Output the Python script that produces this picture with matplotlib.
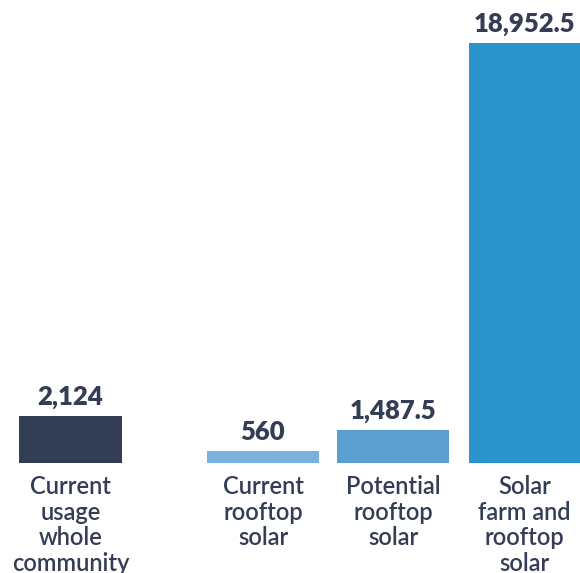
import matplotlib
matplotlib.use("Agg")
import matplotlib.pyplot as plt

# chart data
categories = ["Current\nusage\nwhole\ncommunity", "Current\nrooftop\nsolar",
              "Potential\nrooftop\nsolar", "Solar\nfarm and\nrooftop\nsolar"]
values = [2124, 560, 1487.5, 18952.5]
value_labels = ["2,124", "560", "1,487.5", "18,952.5"]

# layout (pixel-like x units, figure is 580 px wide)
centers = [70.5, 263, 393, 524.5]
widths = [103, 112, 112, 111]
colors = ["#333d55", "#7ab1dc", "#5b9fd0", "#2a94cc"]
text_color = "#333d55"

plt.rcParams["font.family"] = ["Lato", "DejaVu Sans"]

fig = plt.figure(figsize=(5.8, 5.73), dpi=100)
# baseline sits 110 px above the bottom edge
ax = fig.add_axes([0, 110 / 573, 1, 463 / 573])
ax.bar(centers, values, width=widths, color=colors, linewidth=0)
ax.set_xlim(0, 580)
ax.set_ylim(0, 463 * 18952.5 / 420)
ax.axis("off")

for x, v, lab in zip(centers, values, value_labels):
    ax.annotate(lab, (x, v), xytext=(0, 5), textcoords="offset points",
                ha="center", va="bottom", fontsize=18.5, fontweight="heavy",
                color=text_color, annotation_clip=False)

for x, cat in zip(centers, categories):
    ax.annotate(cat, (x, 0), xytext=(0, -9), textcoords="offset points",
                ha="center", va="top", fontsize=17, fontweight="semibold",
                color=text_color, linespacing=1.13, annotation_clip=False)

fig.savefig("out.png", dpi=100)
